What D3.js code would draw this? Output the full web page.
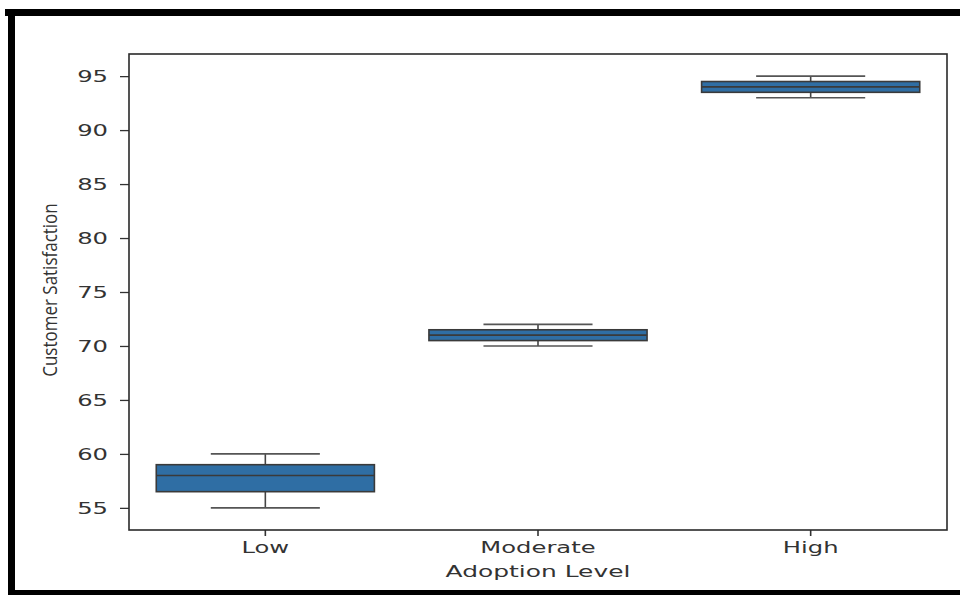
<!DOCTYPE html>
<html>
<head>
<meta charset="utf-8">
<script src="https://cdn.jsdelivr.net/npm/d3@7"></script>
<style>
  body { margin: 0; background: #fff; }
  text { font-family: "DejaVu Sans", sans-serif; fill: #333; }
</style>
</head>
<body>
<script>
var width = 960,
  height = 595

// box plot stats per adoption level
var categories = ['Low', 'Moderate', 'High']
var whiskerLow = [55, 70, 93]
var q1 = [56.5, 70.5, 93.5]
var median = [58, 71, 94]
var q3 = [59, 71.5, 94.5]
var whiskerHigh = [60, 72, 95]
var yTicks = [55, 60, 65, 70, 75, 80, 85, 90, 95]

// plot area edges (note: "top" is reserved on window)
var plotLeft = 129, plotRight = 947, plotTop = 54, plotBottom = 530
var sx = 1.47 // the picture is stretched sideways

var data = categories.map(function (c, i) {
  return {name: c, lo: whiskerLow[i], q1: q1[i], med: median[i], q3: q3[i], hi: whiskerHigh[i]}
})

var x = d3.scaleBand()
  .domain(categories)
  .range([plotLeft, plotRight])
  .paddingInner(0.2)
  .paddingOuter(0.1)

var y = d3.scaleLinear()
  .domain([52.95, 97.05])
  .range([plotBottom, plotTop])

var svg = d3.select('body').append('svg')
  .attr('width', width)
  .attr('height', height)

// outer black frame
svg.append('rect').attr('x', 5).attr('y', 9).attr('width', 960).attr('height', 7).attr('fill', '#000')
svg.append('rect').attr('x', 8).attr('y', 9).attr('width', 7).attr('height', 590).attr('fill', '#000')
svg.append('rect').attr('x', 8).attr('y', 590).attr('width', 960).attr('height', 5).attr('fill', '#000')

var g = svg.selectAll('.box')
  .data(data)
  .enter().append('g')
  .attr('class', 'box')

var bw = x.bandwidth()

g.append('line')
  .attr('x1', function (d) { return x(d.name) + bw / 2 })
  .attr('x2', function (d) { return x(d.name) + bw / 2 })
  .attr('y1', function (d) { return y(d.lo) })
  .attr('y2', function (d) { return y(d.hi) })
  .attr('stroke', '#444').attr('stroke-width', 1.6)

g.append('rect')
  .attr('x', function (d) { return x(d.name) })
  .attr('width', bw)
  .attr('y', function (d) { return y(d.q3) })
  .attr('height', function (d) { return y(d.q1) - y(d.q3) })
  .attr('fill', '#2f6ea4')
  .attr('stroke', '#3a3a3a')
  .attr('stroke-width', 1.6)

g.append('line')
  .attr('x1', function (d) { return x(d.name) })
  .attr('x2', function (d) { return x(d.name) + bw })
  .attr('y1', function (d) { return y(d.med) })
  .attr('y2', function (d) { return y(d.med) })
  .attr('stroke', '#3a3a3a').attr('stroke-width', 1.6)

;['lo', 'hi'].forEach(function (k) {
  g.append('line')
    .attr('x1', function (d) { return x(d.name) + bw / 4 })
    .attr('x2', function (d) { return x(d.name) + bw * 3 / 4 })
    .attr('y1', function (d) { return y(d[k]) })
    .attr('y2', function (d) { return y(d[k]) })
    .attr('stroke', '#555').attr('stroke-width', 1.6)
})

// axes
var yAxis = svg.append('g')
  .attr('transform', 'translate(' + plotLeft + ',0)')
  .call(d3.axisLeft(y).tickValues(yTicks).tickSize(9).tickPadding(12))
yAxis.select('.domain').remove()
yAxis.selectAll('line').attr('stroke', '#333').attr('stroke-width', 1.3)
yAxis.selectAll('text')
  .attr('font-size', 16.5)
  .attr('x', -21 / sx)
  .attr('transform', 'scale(' + sx + ',1)')

var xAxis = svg.append('g')
  .attr('transform', 'translate(0,' + plotBottom + ')')
  .call(d3.axisBottom(x).tickSize(6))
xAxis.select('.domain').remove()
xAxis.selectAll('line').attr('stroke', '#333').attr('stroke-width', 1.6)
xAxis.selectAll('text')
  .attr('font-size', 16.5)
  .attr('dy', null)
  .attr('y', 23)
  .attr('transform', 'scale(' + sx + ',1)')

// spines
svg.append('rect')
  .attr('x', plotLeft).attr('y', plotTop)
  .attr('width', plotRight - plotLeft).attr('height', plotBottom - plotTop)
  .attr('fill', 'none').attr('stroke', '#2a2a2a').attr('stroke-width', 1.6)

svg.append('text')
  .attr('transform', 'translate(' + (plotLeft + plotRight) / 2 + ',577) scale(' + (sx + 0.04) + ',1)')
  .attr('text-anchor', 'middle')
  .attr('font-size', 16.5)
  .text('Adoption Level')

svg.append('text')
  .attr('transform', 'translate(57,290) rotate(-90) scale(1,1.15)')
  .attr('text-anchor', 'middle')
  .style('font-family', '"Open Sans", sans-serif')
  .attr('font-size', 17)
  .text('Customer Satisfaction')
</script>
</body>
</html>
